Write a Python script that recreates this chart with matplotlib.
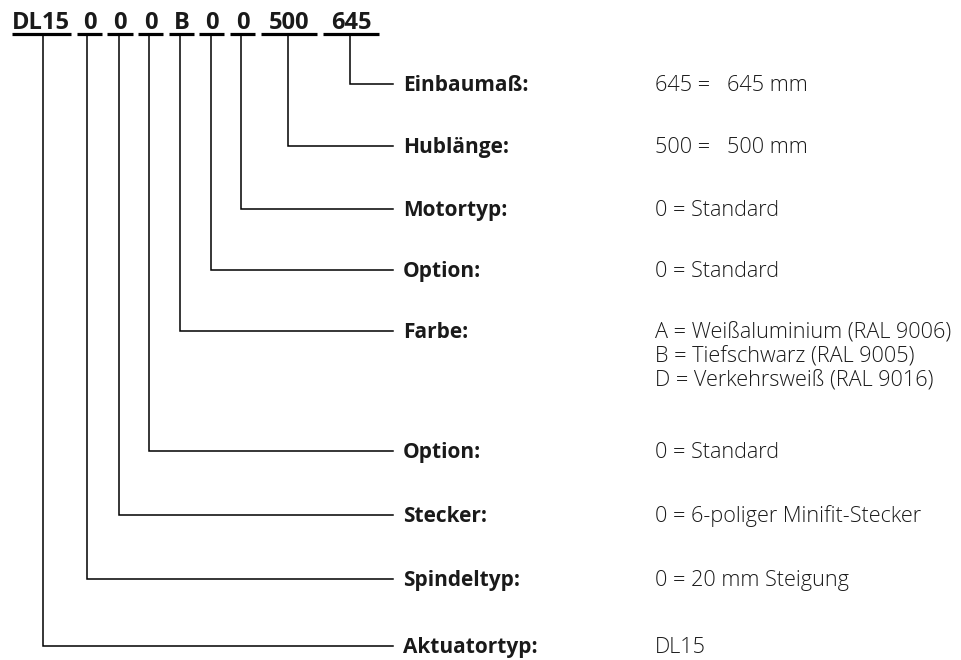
import matplotlib.pyplot as plt

# Type code and its meaning, top row of the diagram
codes = ["DL15", "0", "0", "0", "B", "0", "0", "500", "645"]

# Legend rows from top to bottom; each row points to one code position
row_labels = ["Einbaumaß:", "Hublänge:", "Motortyp:", "Option:", "Farbe:",
              "Option:", "Stecker:", "Spindeltyp:", "Aktuatortyp:"]
row_code_index = [8, 7, 6, 5, 4, 3, 2, 1, 0]
row_values = [
    ["645 =   645 mm"],
    ["500 =   500 mm"],
    ["0 = Standard"],
    ["0 = Standard"],
    ["A = Weißaluminium (RAL 9006)",
     "B = Tiefschwarz (RAL 9005)",
     "D = Verkehrsweiß (RAL 9016)"],
    ["0 = Standard"],
    ["0 = 6-poliger Minifit-Stecker"],
    ["0 = 20 mm Steigung"],
    ["DL15"],
]

# layout (pixels)
underline_x = [(12, 71), (77, 102), (107, 133), (138, 163), (169, 194),
               (199, 224), (230, 255), (261, 317), (323, 379)]
leader_x = [43, 87, 119, 149, 180, 211, 241, 288, 350]
row_y = [84, 146, 209, 270, 331, 451, 515, 579, 646]
underline_y = 34
header_base = 29
line_end = 393
label_x = 403
value_x = 655
value_step = 24
base_off = 7

FONT = "Open Sans"
INK = "#1a1a1a"

fig = plt.figure(figsize=(9.61, 6.60), dpi=100)
ax = fig.add_axes([0, 0, 1, 1])
ax.set_xlim(0, 961)
ax.set_ylim(660, 0)
ax.axis("off")

# header codes with underlines
for i, code in enumerate(codes):
    x0, x1 = underline_x[i]
    if i == 0:
        ax.text(x0, header_base, code, ha="left", va="baseline", fontsize=17,
                fontweight="bold", family=FONT, color=INK)
    else:
        ax.text((x0 + x1) / 2, header_base, code, ha="center", va="baseline",
                fontsize=17, fontweight="bold", family=FONT, color=INK)
    ax.plot([x0, x1], [underline_y, underline_y], color="black", lw=2.3,
            solid_capstyle="butt")

# leader lines, labels, values
for r, label in enumerate(row_labels):
    xi = leader_x[row_code_index[r]]
    y = row_y[r]
    ax.plot([xi, xi, line_end], [underline_y, y, y], color="black", lw=1.1,
            solid_joinstyle="miter")
    ax.text(label_x, y + base_off, label, ha="left", va="baseline", fontsize=15,
            fontweight="bold", family=FONT, color=INK)
    for k, v in enumerate(row_values[r]):
        ax.text(value_x, y + base_off + k * value_step, v, ha="left",
                va="baseline", fontsize=15.6, fontweight="light", family=FONT,
                color=INK)

fig.savefig("out.png", dpi=100, facecolor="white")
